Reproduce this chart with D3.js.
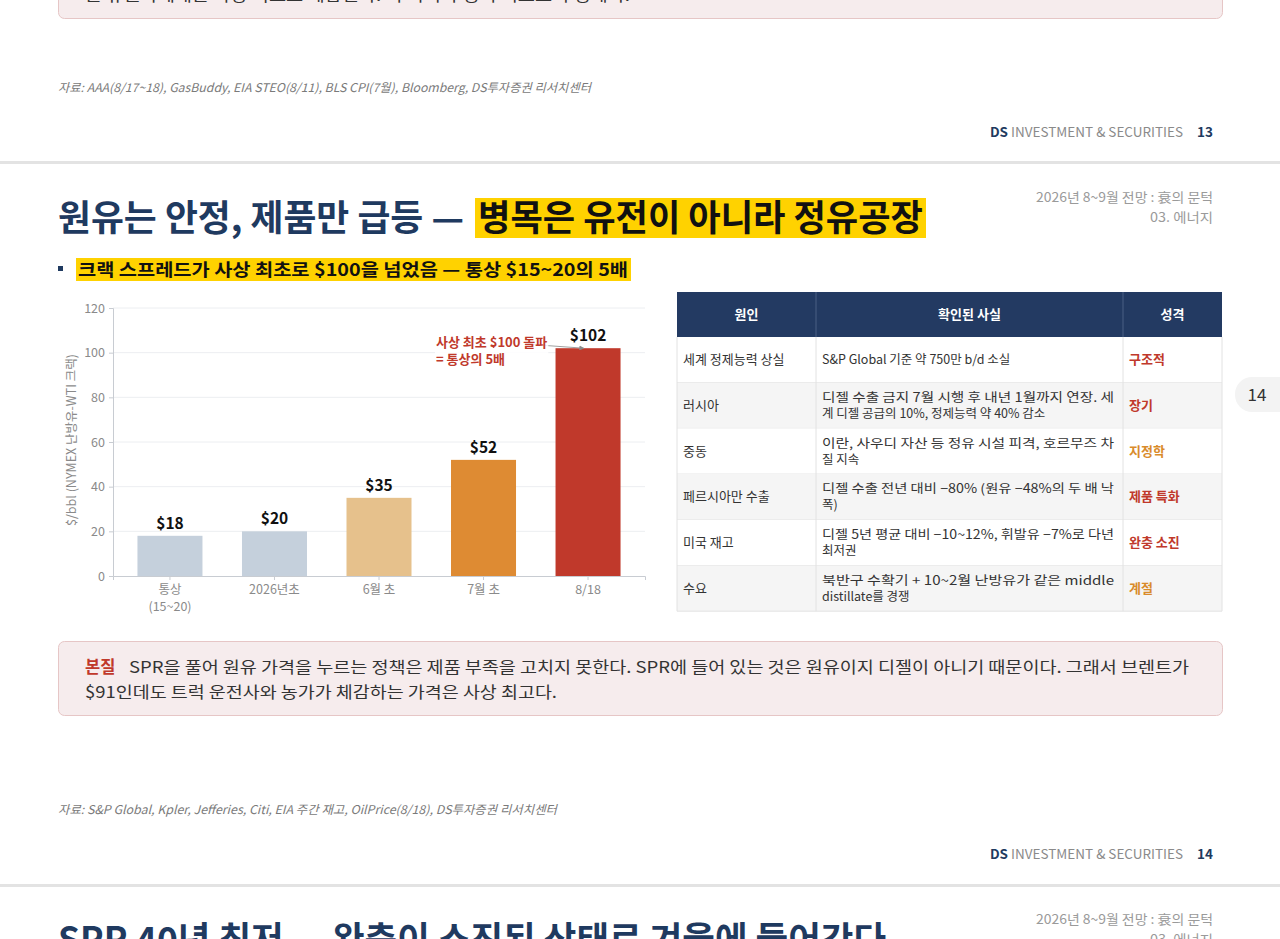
<!DOCTYPE html>
<html>
<head>
<meta charset="utf-8">
<script src="https://cdn.jsdelivr.net/npm/d3@7"></script>
<style>
  body { margin: 0; background: #fff; overflow: hidden; }
  text { font-family: "Noto Sans CJK KR", "Noto Sans", sans-serif; }
</style>
</head>
<body>
<svg id="page"></svg>
<script>
// chart data
const categories = ["통상", "2026년초", "6월 초", "7월 초", "8/18"];
const subLabels = ["(15~20)", "", "", "", ""];
const spreads = [18, 20, 35, 52, 102];
const yTicks = [0, 20, 40, 60, 80, 100, 120];
const barColors = ["#c5d0dc", "#c5d0dc", "#e6c18c", "#de8b33", "#c0392b"];

// table data
const tableHeads = ["원인", "확인된 사실", "성격"];
const causes = ["세계 정제능력 상실", "러시아", "중동", "페르시아만 수출", "미국 재고", "수요"];
const facts = [
  ["S&P Global 기준 약 750만 b/d 소실"],
  ["디젤 수출 금지 7월 시행 후 내년 1월까지 연장. 세", "계 디젤 공급의 10%, 정제능력 약 40% 감소"],
  ["이란, 사우디 자산 등 정유 시설 피격, 호르무즈 차", "질 지속"],
  ["디젤 수출 전년 대비 −80% (원유 −48%의 두 배 낙", "폭)"],
  ["디젤 5년 평균 대비 −10~12%, 휘발유 −7%로 다년", "최저권"],
  ["북반구 수확기 + 10~2월 난방유가 같은 middle", "distillate를 경쟁"]
];
const natures = ["구조적", "장기", "지정학", "제품 특화", "완충 소진", "계절"];
const natureTones = ["red", "red", "orange", "red", "red", "orange"];

const W = 1280, H = 939;
const navy = "#1f3a60";
const svg = d3.select("#page").attr("width", W).attr("height", H);
const bg = svg.append("g");   // highlight boxes sit under the text
const fg = svg.append("g");

// squeeze or stretch a line to the width it has on the slide
function fit(sel, w) {
  return sel.attr("textLength", w).attr("lengthAdjust", "spacingAndGlyphs");
}

/* ---------- previous page tail ---------- */
bg.append("rect").attr("x", 58.5).attr("y", -30).attr("width", 1164).attr("height", 48.5)
  .attr("rx", 6).attr("fill", "#f6eced").attr("stroke", "#e6c6c6");
fit(fg.append("text").attr("x", 85).attr("y", 1).attr("font-size", 15.5).attr("fill", "#333")
  .text("는 유권자에게는 사상 최고로 체감된다. 이 괴리가 정치 리스크의 정체다."), 545);

fit(fg.append("text").attr("x", 58).attr("y", 92).attr("font-size", 12).attr("font-style", "italic")
  .attr("fill", "#7a7a7a")
  .text("자료: AAA(8/17~18), GasBuddy, EIA STEO(8/11), BLS CPI(7월), Bloomberg, DS투자증권 리서치센터"), 533);

function footer(y, num) {
  const t = fg.append("text").attr("x", 1213).attr("y", y).attr("font-size", 13.5).attr("text-anchor", "end");
  t.append("tspan").attr("font-weight", 700).attr("fill", navy).text("DS");
  t.append("tspan").attr("fill", "#8a8a8a").text(" INVESTMENT & SECURITIES");
  t.append("tspan").attr("font-weight", 700).attr("fill", navy).attr("dx", 14).text(num);
}
footer(137, "13");

bg.append("rect").attr("x", 0).attr("y", 161).attr("width", W).attr("height", 3).attr("fill", "#e3e3e3");

/* ---------- page 14 header ---------- */
function pageTag(y) {
  fit(fg.append("text").attr("x", 1036).attr("y", y).attr("font-size", 13).attr("fill", "#9a9a9a")
    .text("2026년 8~9월 전망 : 衰의 문턱"), 177);
  fit(fg.append("text").attr("x", 1150).attr("y", y + 20).attr("font-size", 13).attr("fill", "#9a9a9a")
    .text("03. 에너지"), 63);
}
pageTag(202);

const titleLead = "원유는 안정, 제품만 급등 — ";
const title = fg.append("text").attr("x", 58).attr("y", 231).attr("font-size", 36)
  .attr("font-weight", 700).attr("fill", navy);
fit(title.append("tspan").text(titleLead), 414);
fit(title.append("tspan").attr("x", 478).attr("fill", "#111").text("병목은 유전이 아니라 정유공장"), 445);
bg.append("rect").attr("x", 475).attr("y", 198).attr("width", 451).attr("height", 40).attr("fill", "#ffd200");

bg.append("rect").attr("x", 58).attr("y", 266).attr("width", 5).attr("height", 5).attr("fill", navy);
fit(fg.append("text").attr("x", 78).attr("y", 276).attr("font-size", 17.5).attr("font-weight", 700)
  .attr("fill", "#111").text("크랙 스프레드가 사상 최초로 $100을 넘었음 — 통상 $15~20의 5배"), 550);
bg.append("rect").attr("x", 76).attr("y", 258).attr("width", 555).attr("height", 23).attr("fill", "#ffd200");

/* ---------- bar chart ---------- */
const chart = fg.append("g");
const x = d3.scaleBand().domain(categories).range([113, 645]).paddingInner(0.378).paddingOuter(0.234);
const y = d3.scaleLinear().domain([0, 120]).range([576, 308]);

chart.append("g").selectAll("line").data(yTicks.filter(d => d > 0)).join("line")
  .attr("x1", 113).attr("x2", 645).attr("y1", d => y(d)).attr("y2", d => y(d))
  .attr("stroke", "#eceef1").attr("stroke-width", 1);

chart.append("g").attr("transform", "translate(113,0)")
  .call(d3.axisLeft(y).tickValues(yTicks).tickSize(4).tickPadding(4))
  .call(g => g.select(".domain").attr("stroke", "#c8ccd2"))
  .call(g => g.selectAll(".tick line").attr("stroke", "#c8ccd2"))
  .call(g => g.selectAll(".tick text").attr("fill", "#8a8a8a").attr("font-size", 12.5)
    .attr("font-family", "Noto Sans CJK KR"));

chart.append("g").attr("transform", "translate(0,576)")
  .call(d3.axisBottom(x).tickSize(4).tickPadding(5))
  .call(g => g.select(".domain").attr("stroke", "#c8ccd2"))
  .call(g => g.selectAll(".tick line").attr("stroke", "#c8ccd2"))
  .call(g => g.selectAll(".tick text").attr("fill", "#8a8a8a").attr("font-size", 12.5)
    .attr("font-family", "Noto Sans CJK KR")
    .each(function (d, i) {
      if (subLabels[i]) {
        d3.select(this.parentNode).append("text").attr("y", 26).attr("dy", "0.71em")
          .attr("fill", "#8a8a8a").attr("font-size", 12.5).attr("text-anchor", "middle")
          .text(subLabels[i]);
      }
    }));

chart.append("text").attr("transform", "translate(76,440) rotate(-90)").attr("text-anchor", "middle")
  .attr("font-size", 12.5).attr("fill", "#8a8a8a").text("$/bbl (NYMEX 난방유-WTI 크랙)");

chart.append("g").selectAll("rect").data(spreads).join("rect")
  .attr("x", (d, i) => x(categories[i])).attr("width", x.bandwidth())
  .attr("y", d => y(d)).attr("height", d => y(0) - y(d))
  .attr("fill", (d, i) => barColors[i]);

chart.append("g").selectAll("text").data(spreads).join("text")
  .attr("x", (d, i) => x(categories[i]) + x.bandwidth() / 2).attr("y", d => y(d) - 7)
  .attr("text-anchor", "middle").attr("font-size", 15.5).attr("font-weight", 700).attr("fill", "#111")
  .text(d => "$" + d);

// annotation on the record bar
const last = categories.length - 1;
const ax = x(categories[last]), ay = y(spreads[last]);
svg.append("defs").append("marker").attr("id", "arr").attr("viewBox", "0 0 6 6").attr("refX", 5).attr("refY", 3)
  .attr("markerWidth", 5).attr("markerHeight", 5).attr("orient", "auto")
  .append("path").attr("d", "M0,0 L6,3 L0,6 z").attr("fill", "#8a8a8a");
chart.append("line").attr("x1", ax - 28).attr("y1", ay - 4).attr("x2", ax + 28).attr("y2", ay)
  .attr("stroke", "#a0a0a0").attr("stroke-width", 1).attr("marker-end", "url(#arr)");
const noteBg = chart.append("rect");
const note = chart.append("text").attr("font-size", 13).attr("font-weight", 700).attr("fill", "#c0392b");
note.append("tspan").attr("x", 436).attr("y", ay - 1).text("사상 최초 $100 돌파");
note.append("tspan").attr("x", 436).attr("y", ay + 16).text("= 통상의 5배");
const nb = note.node().getBBox();
noteBg.attr("x", nb.x - 1).attr("y", nb.y).attr("width", nb.width + 2).attr("height", nb.height)
  .attr("fill", "#fff").attr("opacity", 0.85);

/* ---------- table ---------- */
const cols = [677, 816, 1123, 1222];
const headTop = 292, headH = 45, rowH = 45.7;
const tg = fg.append("g");
tg.append("rect").attr("x", cols[0]).attr("y", headTop).attr("width", cols[3] - cols[0]).attr("height", headH)
  .attr("fill", "#233a62");
tableHeads.forEach((h, i) => {
  tg.append("text").attr("x", (cols[i] + cols[i + 1]) / 2).attr("y", headTop + headH / 2 + 4.5)
    .attr("text-anchor", "middle").attr("font-size", 13).attr("font-weight", 700).attr("fill", "#fff").text(h);
  if (i > 0) tg.append("line").attr("x1", cols[i]).attr("x2", cols[i]).attr("y1", headTop).attr("y2", headTop + headH)
    .attr("stroke", "#4a5f83");
});
const toneColor = { red: "#c0392b", orange: "#d98b2b" };
causes.forEach((c, r) => {
  const top = headTop + headH + r * rowH, mid = top + rowH / 2;
  tg.append("rect").attr("x", cols[0]).attr("y", top).attr("width", cols[3] - cols[0]).attr("height", rowH)
    .attr("fill", r % 2 ? "#f5f5f5" : "#fff");
  tg.append("text").attr("x", cols[0] + 6).attr("y", mid + 4.5).attr("font-size", 13).attr("fill", "#333").text(c);
  const lines = facts[r];
  lines.forEach((l, k) => {
    const t = tg.append("text").attr("x", cols[1] + 6).attr("y", mid + 4.5 + (k - (lines.length - 1) / 2) * 16)
      .attr("font-size", 12.5).attr("fill", "#333").text(l);
    if (k === 0 && lines.length > 1) fit(t, 292);
  });
  tg.append("text").attr("x", cols[2] + 6).attr("y", mid + 4.5).attr("font-size", 13).attr("font-weight", 700)
    .attr("fill", toneColor[natureTones[r]]).text(natures[r]);
  tg.append("line").attr("x1", cols[0]).attr("x2", cols[3]).attr("y1", top + rowH).attr("y2", top + rowH)
    .attr("stroke", "#e2e2e2");
});
const tBottom = headTop + headH + causes.length * rowH;
cols.forEach(cx => tg.append("line").attr("x1", cx).attr("x2", cx).attr("y1", headTop + headH).attr("y2", tBottom)
  .attr("stroke", "#e2e2e2"));

/* ---------- side tab ---------- */
bg.append("rect").attr("x", 1235).attr("y", 377).attr("width", 70).attr("height", 35).attr("rx", 17)
  .attr("fill", "#f3f3f3");
fg.append("text").attr("x", 1257).attr("y", 401).attr("text-anchor", "middle").attr("font-size", 17)
  .attr("fill", "#333").text("14");

/* ---------- callout ---------- */
bg.append("rect").attr("x", 58.5).attr("y", 641.5).attr("width", 1164).attr("height", 74).attr("rx", 6)
  .attr("fill", "#f6eced").attr("stroke", "#e6c6c6");
fg.append("text").attr("x", 85).attr("y", 673).attr("font-size", 16.5).attr("font-weight", 700)
  .attr("fill", "#c0392b").text("본질");
fit(fg.append("text").attr("x", 129).attr("y", 673).attr("font-size", 16).attr("fill", "#333")
  .text("SPR을 풀어 원유 가격을 누르는 정책은 제품 부족을 고치지 못한다. SPR에 들어 있는 것은 원유이지 디젤이 아니기 때문이다. 그래서 브렌트가"), 1060);
fit(fg.append("text").attr("x", 85).attr("y", 698).attr("font-size", 16).attr("fill", "#333")
  .text("$91인데도 트럭 운전사와 농가가 체감하는 가격은 사상 최고다."), 472);

/* ---------- page 14 footer ---------- */
fit(fg.append("text").attr("x", 58).attr("y", 814).attr("font-size", 12).attr("font-style", "italic")
  .attr("fill", "#7a7a7a")
  .text("자료: S&P Global, Kpler, Jefferies, Citi, EIA 주간 재고, OilPrice(8/18), DS투자증권 리서치센터"), 499);
footer(859, "14");
bg.append("rect").attr("x", 0).attr("y", 884).attr("width", W).attr("height", 3).attr("fill", "#e3e3e3");

/* ---------- next page head (cut off) ---------- */
pageTag(924);
fit(fg.append("text").attr("x", 58).attr("y", 953).attr("font-size", 36).attr("font-weight", 700).attr("fill", navy)
  .text("SPR 40년 최저 — 완충이 소진된 상태로 겨울에 들어간다"), 828);
</script>
</body>
</html>
